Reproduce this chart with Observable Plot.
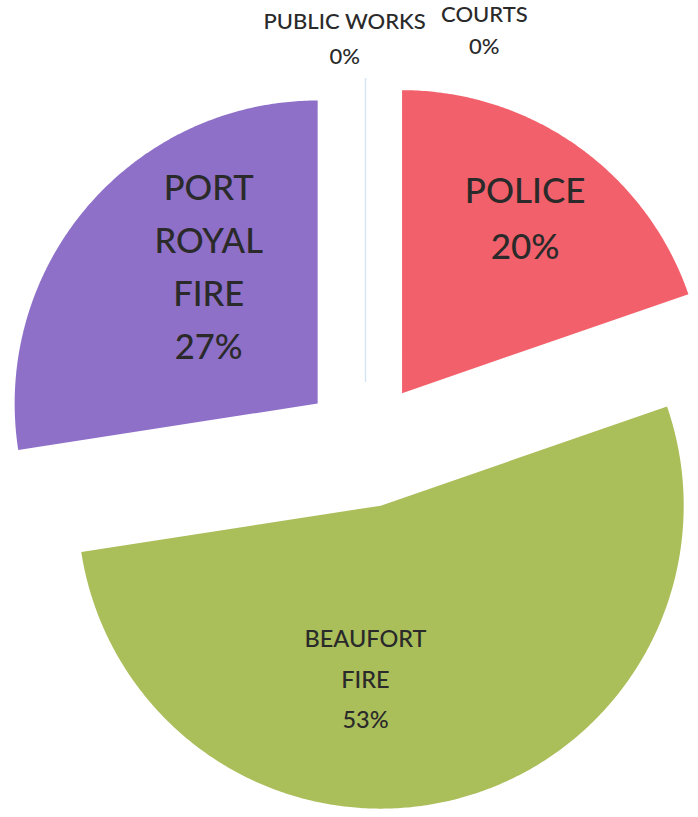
<!DOCTYPE html>
<html>
<head>
<meta charset="utf-8">
<script src="https://cdn.jsdelivr.net/npm/d3@7"></script>
<script src="https://cdn.jsdelivr.net/npm/@observablehq/plot@0.6"></script>
<style>
  html, body { margin: 0; padding: 0; background: #ffffff; }
  #chart { width: 698px; height: 817px; }
</style>
</head>
<body>
<div id="chart"></div>
<script>
// ---- data ----
const categories = ["POLICE", "BEAUFORT FIRE", "PORT ROYAL FIRE", "PUBLIC WORKS", "COURTS"];
const labelTexts = ["POLICE", "BEAUFORT\nFIRE", "PORT\nROYAL\nFIRE", "PUBLIC WORKS", "COURTS"];
const shares = [19.7, 52.85, 27.45, 0, 0];
const colors = ["#f2616b", "#aabe5a", "#8e70c8", "#d3e5f4", "#d3e5f4"];

// ---- layout (not data) ----
const W = 698, H = 817;
const CX = 365, CY = 444, R = 303;
const EXPLODE = 63 / R;
const labelLayout = {
  "POLICE":          { r: 0.706, turn: -0.35, size: 35,   lh: 1.58 },
  "BEAUFORT FIRE":   { r: 0.576, turn: 18.95, size: 23.5, lh: 1.74 },
  "PORT ROYAL FIRE": { r: 0.575, turn: 10.7,  size: 34.5, lh: 1.53 },
  "PUBLIC WORKS":    { r: 1.128, turn: -3.5,  size: 22,   lh: 1.6 },
  "COURTS":          { r: 1.217, turn: 18.8,  size: 22,   lh: 1.45 }
};

const rows = categories.map((name, i) => ({ name, label: labelTexts[i], value: shares[i] }));
const arcs = d3.pie().sort(null).value(d => d.value).startAngle(0).endAngle(2 * Math.PI)(rows);

const slicePts = [];
const labels = [];
for (const a of arcs) {
  const name = a.data.name;
  const mid = (a.startAngle + a.endAngle) / 2;
  const ox = EXPLODE * Math.sin(mid), oy = EXPLODE * Math.cos(mid);
  slicePts.push({ name, value: a.data.value, x: ox, y: oy });
  const n = Math.max(2, Math.ceil((a.endAngle - a.startAngle) / (Math.PI / 360)));
  for (let i = 0; i <= n; i++) {
    const t = a.startAngle + (a.endAngle - a.startAngle) * i / n;
    slicePts.push({ name, value: a.data.value, x: ox + Math.sin(t), y: oy + Math.cos(t) });
  }
  if (a.data.value > 0) slicePts.push({ name, value: a.data.value, x: ox, y: oy });
  const L = labelLayout[name];
  const la = mid + L.turn * Math.PI / 180;
  labels.push({
    name, text: `${a.data.label}\n${Math.round(a.data.value)}%`,
    x: ox + L.r * Math.sin(la), y: oy + L.r * Math.cos(la),
    size: L.size, lh: L.lh
  });
}

const textMarks = labels.map(l => Plot.text([l], {
  x: "x", y: "y", text: "text",
  fontSize: l.size, lineHeight: l.lh,
  fontFamily: "Lato, 'Open Sans', sans-serif",
  fontWeight: 500,
  fill: "#2a2a2a", textAnchor: "middle", dy: -5
}));

const chart = Plot.plot({
  width: W, height: H, margin: 0,
  style: { background: "#ffffff", overflow: "visible" },
  x: { domain: [-CX / R, (W - CX) / R], axis: null },
  y: { domain: [(CY - H) / R, CY / R], axis: null },
  color: { domain: categories, range: colors },
  marks: [
    Plot.line(slicePts.filter(p => p.value > 0), { x: "x", y: "y", z: "name", fill: "name", stroke: null }),
    Plot.line(slicePts.filter(p => p.value === 0), { x: "x", y: "y", z: "name", stroke: "name", strokeWidth: 1.2 }),
    ...textMarks
  ]
});
document.getElementById("chart").append(chart);
</script>
</body>
</html>
